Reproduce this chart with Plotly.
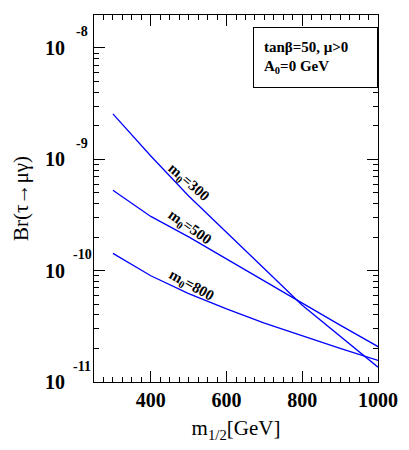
import plotly.graph_objects as go

# m_1/2 grid [GeV]
m_half = [300, 400, 500, 600, 700, 800, 900, 1000]

# Br(tau -> mu gamma) for the three m0 values
br_m0_300 = [2.56e-9, 1.07e-9, 4.69e-10, 2.19e-10, 1.04e-10, 4.90e-11, 2.56e-11, 1.36e-11]
br_m0_500 = [5.27e-10, 3.07e-10, 2.01e-10, 1.28e-10, 8.11e-11, 5.11e-11, 3.24e-11, 2.08e-11]
br_m0_800 = [1.43e-10, 9.00e-11, 6.21e-11, 4.53e-11, 3.38e-11, 2.58e-11, 2.00e-11, 1.56e-11]

series = [("300", br_m0_300), ("500", br_m0_500), ("800", br_m0_800)]

# curve labels: (text, x, log10 y, angle)
curve_labels = [
    ("300", 500, -9.212, 41),
    ("500", 503, -9.616, 35),
    ("800", 508, -10.135, 29),
]

y_major_exp = [-11, -10, -9, -8]

x_range = [250, 1000]
y_range = [-11, -7.704]

serif = "Liberation Serif, Times New Roman, serif"

fig = go.Figure()
for name, ys in series:
    fig.add_trace(go.Scatter(
        x=m_half, y=ys, mode="lines", name="m0=" + name,
        line=dict(color="#0000ff", width=1.3),
        showlegend=False
    ))

# invisible copy on the overlay axes, so that the tick axes get drawn
fig.add_trace(go.Scatter(
    x=m_half, y=br_m0_300, xaxis="x2", yaxis="y2", mode="lines",
    line=dict(width=0), hoverinfo="skip", showlegend=False
))

for txt, x, ly, ang in curve_labels:
    fig.add_annotation(
        x=x, y=ly, xref="x", yref="y", yanchor="middle",
        text="<b>m<sub>0</sub>=" + txt + "</b>",
        showarrow=False, textangle=ang,
        font=dict(family=serif, size=15, color="black")
    )

# exponents of the y tick labels
for e in y_major_exp:
    fig.add_annotation(
        x=-0.042, y=e, xref="paper", yref="y",
        xanchor="center", yanchor="middle", yshift=16, showarrow=False,
        text="<b>" + str(e) + "</b>",
        font=dict(family=serif, size=14, color="black")
    )

# info box
fig.add_annotation(
    x=1.0, y=0.968, xref="paper", yref="paper",
    xanchor="right", yanchor="top", showarrow=False,
    text="<b>tanβ=50, μ&gt;0</b><br><b>A<sub>0</sub>=0 GeV</b>",
    align="left", valign="middle", width=103, height=39, borderpad=10,
    bordercolor="black", borderwidth=1, bgcolor="white",
    font=dict(family=serif, size=15, color="black")
)

fig.update_xaxes(
    range=x_range, dtick=200,
    showline=True, linecolor="black", mirror="ticks",
    ticks="inside", ticklen=11, tickcolor="black", showgrid=False,
    tickfont=dict(family=serif, size=20, color="black", weight="bold"),
    minor=dict(dtick=25, ticks="inside", ticklen=5, tickcolor="black"),
    title=dict(text="m<sub>1/2</sub>[GeV]",
               font=dict(family=serif, size=21, color="black"), standoff=10),
)

fig.update_yaxes(
    type="log", range=y_range,
    tickmode="array", tickvals=[10.0**e for e in y_major_exp],
    ticktext=["10"] * len(y_major_exp), ticklabelstandoff=24,
    showline=True, linecolor="black", mirror="ticks",
    ticks="inside", ticklen=11, tickcolor="black", showgrid=False,
    tickfont=dict(family=serif, size=20, color="black", weight="bold"),
    minor=dict(dtick="D1", ticks="inside", ticklen=5, tickcolor="black"),
    title=dict(text="Br(τ→μγ)",
               font=dict(family=serif, size=21, color="black"), standoff=10),
)

# overlay axes carrying the inside ticks on all four sides
fig.update_layout(
    xaxis2=dict(overlaying="x", anchor="y2", range=x_range, dtick=200,
                showticklabels=False, showgrid=False,
                showline=True, linecolor="black", mirror="ticks",
                ticks="inside", ticklen=11, tickcolor="black",
                minor=dict(dtick=25, ticks="inside", ticklen=5, tickcolor="black")),
    yaxis2=dict(overlaying="y", anchor="x2", type="log", range=y_range, dtick=1,
                showticklabels=False, showgrid=False,
                showline=True, linecolor="black", mirror="ticks",
                ticks="inside", ticklen=11, tickcolor="black",
                minor=dict(dtick="D1", ticks="inside", ticklen=5, tickcolor="black")),
)

fig.update_layout(
    width=409, height=450,
    margin=dict(l=94, r=31, t=15, b=68),
    paper_bgcolor="white", plot_bgcolor="white",
    showlegend=False,
)

fig.write_html("out.html", config={"displayModeBar": False},
               post_script="document.body.style.margin='0';")
